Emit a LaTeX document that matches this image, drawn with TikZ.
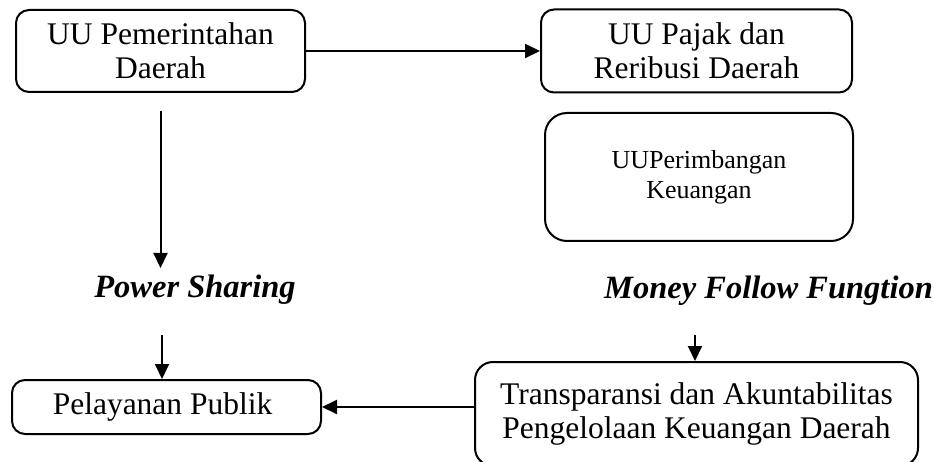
\documentclass[tikz,border=0pt]{standalone}
\usepackage{fontspec}
\setmainfont{Liberation Serif}
\usepackage{tikz}
\usetikzlibrary{positioning,arrows.meta}

\tikzset{
  uubox/.style = { draw, line width = 2pt, rounded corners = 13pt, align = center,
                   inner sep = 0pt, font = \fontsize{31.5}{34}\selectfont },
  concept/.style = { font = \fontsize{32.5}{34}\selectfont\bfseries\itshape, inner sep = 0pt },
  flow/.style = { line width = 2pt, -{Triangle[length=15pt,width=14pt]} }
}

\begin{document}
\begin{tikzpicture}[x = 1pt, y = -1pt]
  \useasboundingbox (0,0) rectangle (934,462);

  % undang-undang
  \node [uubox, minimum width = 289pt, minimum height = 82pt] (pemda) at (160.5,51) { UU Pemerintahan \\ Daerah };
  \node [uubox, minimum width = 311pt, minimum height = 83pt] (pajak) at (696.5,51) { UU Pajak dan \\ Reribusi Daerah };
  \node [uubox, minimum width = 308pt, minimum height = 128pt, rounded corners = 22pt,
         font = \fontsize{26}{30}\selectfont] (imbang) at (699,177) { UUPerimbangan \\ Keuangan };

  % konsep
  \node [concept] (power) at (195,290) { Power Sharing };
  \node [concept] (money) at (768.5,291) { Money Follow Fungtion };

  % hasil
  \node [uubox, minimum width = 309pt, minimum height = 54pt] (publik) at (166.5,407) { Pelayanan Publik };
  \node [uubox, minimum width = 443pt, minimum height = 104pt, rounded corners = 18pt] (transp) at (696.5,414)
        { Transparansi dan Akuntabilitas \\ Pengelolaan Keuangan Daerah };

  \coordinate (pwrtop) at (160.5,111);
  \coordinate (pwrend) at (160.5,268);
  \coordinate (pubtop) at (162,335);
  \coordinate (montop) at (695,335);

  \draw [flow] (pemda) -- (pajak);
  \draw [flow] (pwrtop) -- (pwrend);
  \draw [flow] (pubtop) -- (pubtop |- publik.north);
  \draw [flow] (montop) -- (montop |- transp.north);
  \draw [flow] (transp.west |- publik.east) -- (publik.east);
\end{tikzpicture}
\end{document}
